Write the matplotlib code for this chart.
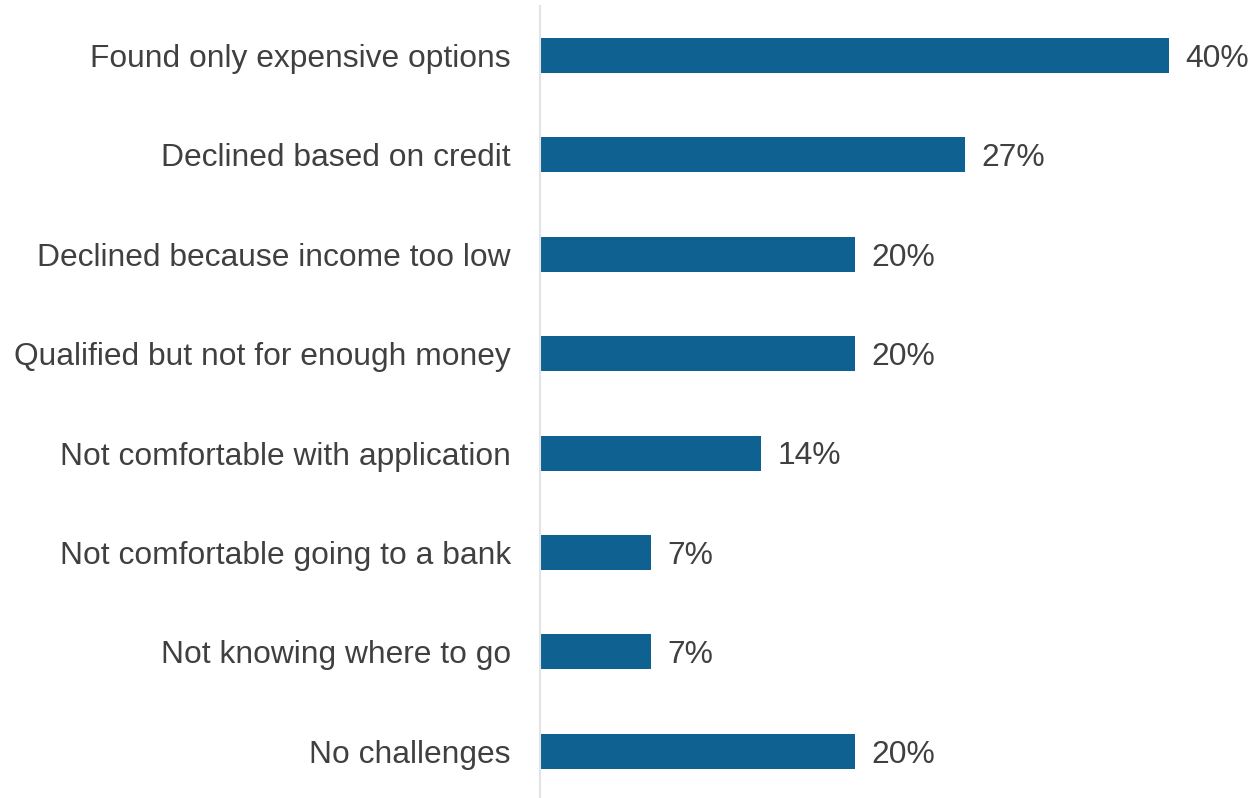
import matplotlib
matplotlib.use("Agg")
import matplotlib.pyplot as plt

categories = [
    "Found only expensive options",
    "Declined based on credit",
    "Declined because income too low",
    "Qualified but not for enough money",
    "Not comfortable with application",
    "Not comfortable going to a bank",
    "Not knowing where to go",
    "No challenges",
]
values = [40, 27, 20, 20, 14, 7, 7, 20]

plt.rcParams["font.family"] = ["Liberation Sans", "DejaVu Sans"]

W, H = 1259, 798
fig = plt.figure(figsize=(W / 100, H / 100), dpi=100)
ax = fig.add_axes([540 / W, 0, 1 - 540 / W, 1 - 6 / H])

bar_color = "#0E6191"
text_color = "#404040"
fs = 22.9

ypos = list(range(len(categories)))
ax.barh(ypos, values, height=0.352, color=bar_color, left=0.05)

ax.set_xlim(0, (W - 540) / 15.7)
ax.set_ylim(7.47, -0.498)

for y, v in zip(ypos, values):
    ax.annotate(f"{v}%", xy=(v + 0.05, y), xytext=(12, -0.358 * fs), textcoords="offset points",
                va="baseline", ha="left", fontsize=fs, color=text_color)

ax.set_yticks(ypos)
ax.set_yticklabels(categories, fontsize=fs, color=text_color)
ax.tick_params(axis="y", length=0, pad=21)
ax.set_xticks([])

for s in ["top", "right", "bottom"]:
    ax.spines[s].set_visible(False)
ax.spines["left"].set_color("#E3E3E3")
ax.spines["left"].set_linewidth(1.5)

fig.savefig("out.png", dpi=100)
